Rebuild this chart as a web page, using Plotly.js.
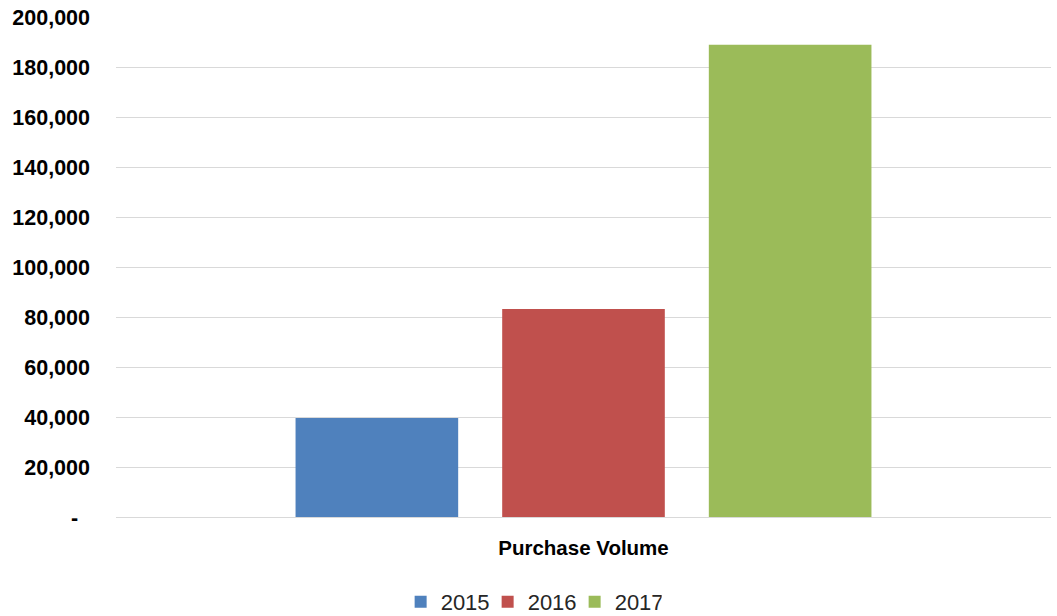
<!DOCTYPE html>
<html>
<head>
<meta charset="utf-8">
<script src="https://cdn.plot.ly/plotly-3.0.1.min.js"></script>
<style>html,body{margin:0;padding:0;background:#fff;}#chart{width:1057px;height:616px;}</style>
</head>
<body>
<div id="chart"></div>
<script>
const categories = ['Purchase Volume'];
const seriesNames = ['2015', '2016', '2017'];
const values2015 = [39600];
const values2016 = [83200];
const values2017 = [188900];
const seriesValues = [values2015, values2016, values2017];
const colors = ['#4F81BD', '#C0504D', '#9BBB59'];
const yTickVals = [0, 20000, 40000, 60000, 80000, 100000, 120000, 140000, 160000, 180000, 200000];
const yTickText = ['-\u00A0\u00A0', '20,000', '40,000', '60,000', '80,000', '100,000', '120,000', '140,000', '160,000', '180,000', '200,000'];

const traces = seriesNames.map((name, i) => ({
  type: 'bar',
  name: name,
  x: categories,
  y: seriesValues[i],
  marker: {color: colors[i], line: {width: 0}},
  hoverinfo: 'y+name'
}));

const layout = {
  width: 1057,
  height: 616,
  margin: {l: 116, r: 6, t: 17, b: 99, autoexpand: false},
  paper_bgcolor: '#ffffff',
  plot_bgcolor: '#ffffff',
  barmode: 'group',
  bargap: 0.337,
  bargroupgap: 0.213,
  font: {family: 'Liberation Sans, Arial, sans-serif', color: '#000000'},
  xaxis: {
    type: 'category',
    showgrid: false,
    showline: false,
    zeroline: false,
    ticks: '',
    ticklabelstandoff: 16,
    tickfont: {family: 'Liberation Sans, Arial, sans-serif', size: 20.5, weight: 'bold', color: '#000000'}
  },
  yaxis: {
    range: [0, 200000],
    tickvals: yTickVals,
    ticktext: yTickText,
    showgrid: true,
    gridcolor: '#D9D9D9',
    gridwidth: 1,
    zeroline: true,
    zerolinecolor: '#D9D9D9',
    zerolinewidth: 1,
    showline: false,
    ticks: '',
    ticklabelstandoff: 25,
    tickfont: {family: 'Liberation Sans, Arial, sans-serif', size: 21.5, weight: 'bold', color: '#000000'},
    fixedrange: true
  },
  showlegend: true,
  legend: {
    orientation: 'h',
    x: 0.444,
    xanchor: 'center',
    y: -0.17,
    yanchor: 'middle',
    font: {family: 'Liberation Sans, Arial, sans-serif', size: 22, color: '#262626'},
    entrywidth: 42,
    entrywidthmode: 'pixels',
    itemwidth: 30,
    traceorder: 'normal'
  }
};

Plotly.newPlot('chart', traces, layout, {displayModeBar: false, staticPlot: true});
</script>
</body>
</html>
